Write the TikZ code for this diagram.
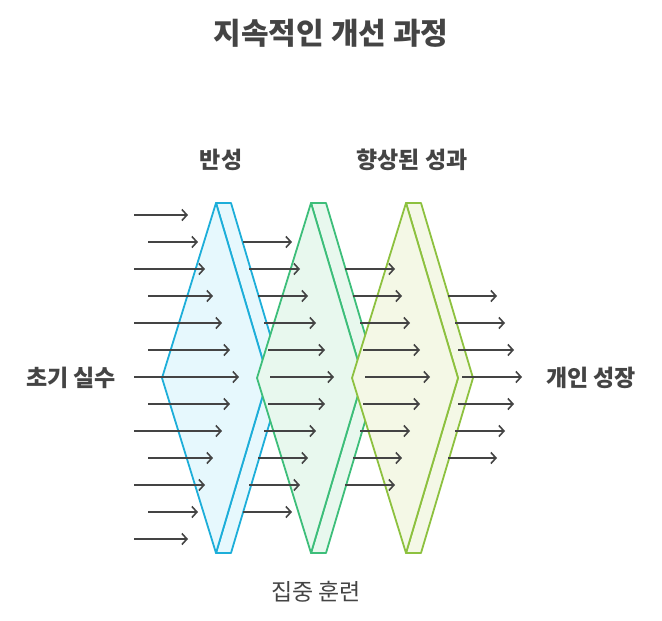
\documentclass[tikz,border=0pt]{standalone}
\usepackage{fontspec}
\setmainfont{Noto Sans CJK KR}
\usetikzlibrary{arrows.meta}
\definecolor{arr}{HTML}{444444}
\definecolor{cA}{HTML}{1DAED9}\definecolor{fA}{HTML}{E6F8FD}
\definecolor{cB}{HTML}{3DBE7A}\definecolor{fB}{HTML}{E8F8EE}
\definecolor{cC}{HTML}{8DC13F}\definecolor{fC}{HTML}{F4F8E6}
\tikzset{flow/.style={draw=arr,line width=1.6pt,-{Straight Barb[length=5pt,width=11pt,line width=1.6pt]}},
 lbl/.style={text=arr,font=\bfseries\fontsize{23}{26}\selectfont},
 prism/.style={line width=1.8pt,line join=round}}
\begin{document}
\begin{tikzpicture}[x=1pt,y=-1pt]
\useasboundingbox (0,0) rectangle (662,621);
\foreach \dx/\c/\f in {0/cA/fA,95/cB/fB,190/cC/fC}{
 \begin{scope}[xshift=\dx]
 \draw[prism,draw=\c,fill=\f] (216,203)--(231,203)--(283,378)--(231,553)--(216,553)--(268,378)--cycle;
 \draw[prism,draw=\c,fill=\f] (216,203)--(268,378)--(216,553)--(162,378)--cycle;
 \end{scope}}
\foreach \y/\a/\b in {215/134/188,242/148/198,269/134/205,296/148/213,323/134/222,350/148/230,377/134/239,404/148/230,431/134/222,458/148/213,485/134/205,512/148/198,539/134/188}
 \draw[flow] (\a,\y)--(\b,\y);
\foreach \y/\a/\b in {242/243/292,269/249/300,296/258/308,323/264/316,350/268/325,377/270/334,404/268/325,431/264/316,458/258/308,485/249/300,512/243/292}
 \draw[flow] (\a,\y)--(\b,\y);
\foreach \y/\a/\b in {269/345/395,296/353/402,323/360/410,350/363/420,377/365/430,404/363/420,431/360/410,458/353/402,485/345/395}
 \draw[flow] (\a,\y)--(\b,\y);
\foreach \y/\a/\b in {296/448/497,323/455/505,350/458/514,377/462/522,404/458/514,431/455/505,458/448/497}
 \draw[flow] (\a,\y)--(\b,\y);
\node[lbl,font=\bfseries\fontsize{30}{34}\selectfont] (title) at (331,33) {지속적인 개선 과정};
\node[lbl] (l1) at (221,160) {반성};
\node[lbl] (l2) at (412,160) {향상된 성과};
\node[lbl] (l3) at (71,378) {초기 실수};
\node[lbl] (l4) at (591,378) {개인 성장};
\node[lbl,font=\fontsize{23}{26}\selectfont] (l5) at (316,592) {집중 훈련};
\end{tikzpicture}
\end{document}
